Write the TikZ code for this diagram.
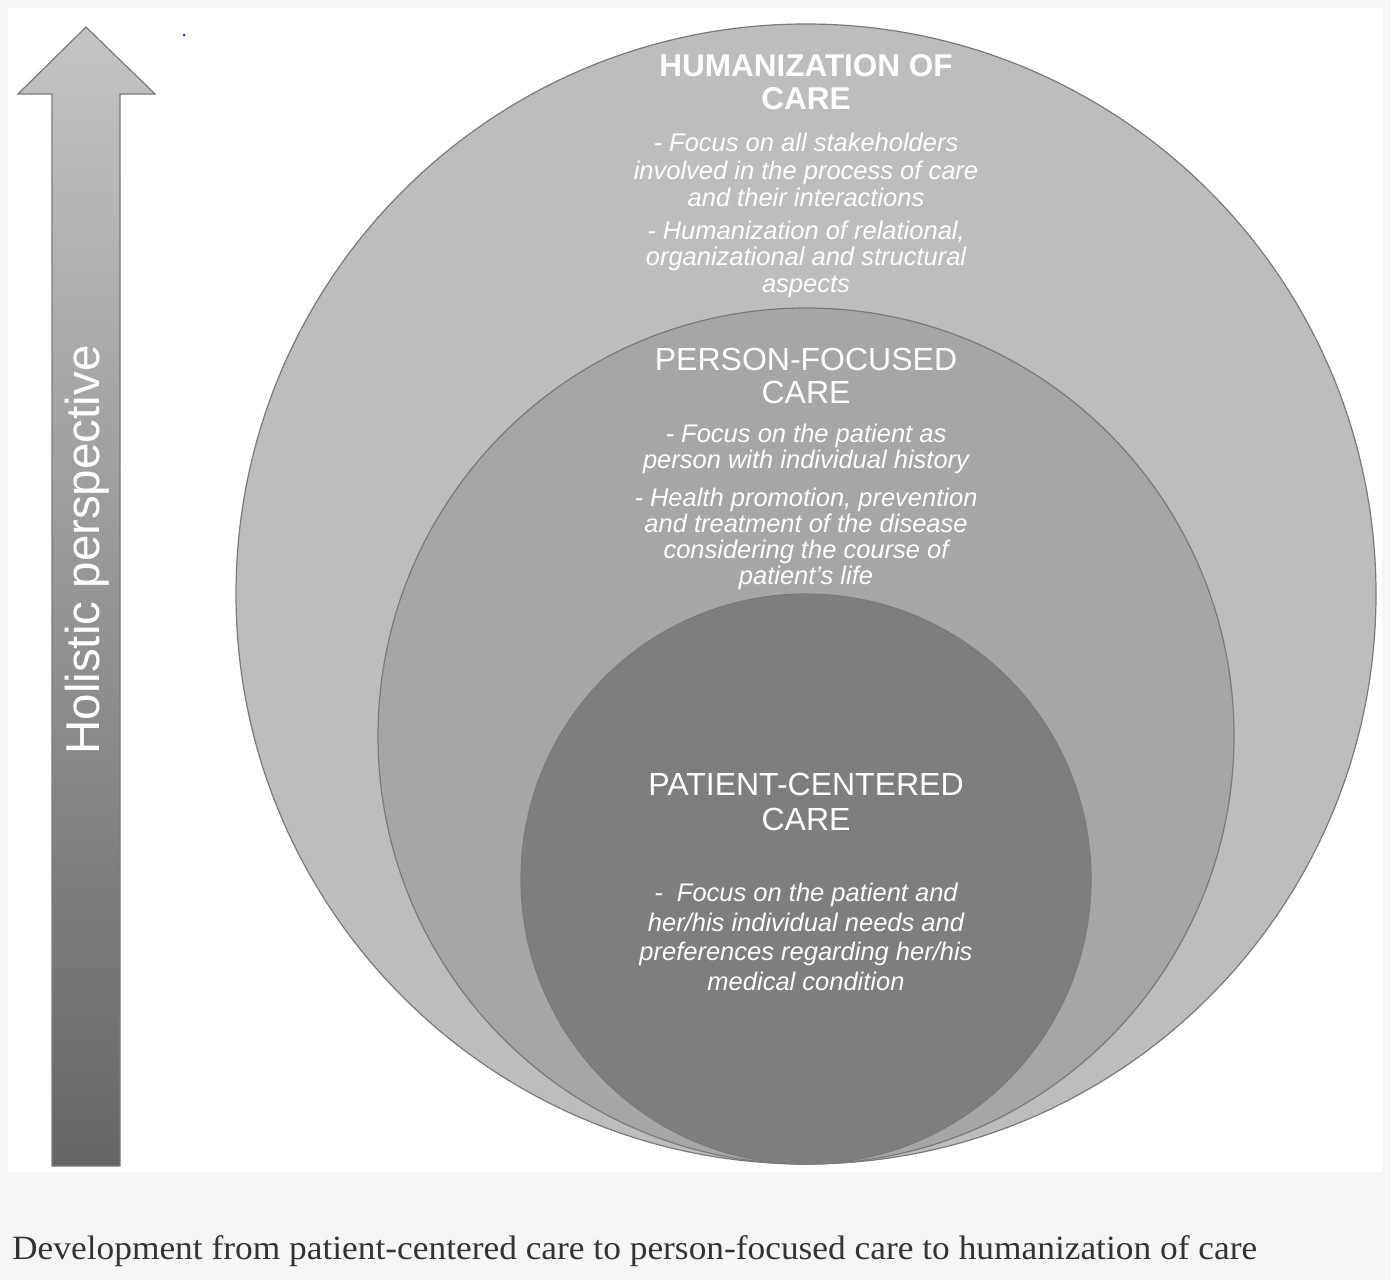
\documentclass[tikz,border=0pt]{standalone}
\usepackage{fontspec}
\setmainfont{Liberation Serif}
\setsansfont{Liberation Sans}
\definecolor{pagebg}{HTML}{F6F6F6}
\definecolor{outerfill}{HTML}{BDBDBD}
\definecolor{midfill}{HTML}{A6A6A6}
\definecolor{innerfill}{HTML}{7E7E7E}
\definecolor{ringline}{HTML}{7A7A7A}
\definecolor{captext}{HTML}{333333}
\definecolor{arrowtop}{HTML}{C4C4C4}
\definecolor{arrowbot}{HTML}{666666}
\tikzset{
  ring/.style={draw=ringline, line width=1.2pt},
  ctitle/.style={text=white, align=center, font=\sffamily\fontsize{32}{33}\selectfont},
  cbody/.style={text=white, align=center, font=\sffamily\itshape\fontsize{25.5}{27}\selectfont},
}
\begin{document}
\begin{tikzpicture}[x=1pt,y=-1pt]
\useasboundingbox (0,0) rectangle (1391,1280);
\fill[pagebg] (0,0) rectangle (1391,1280);
\fill[white] (8,8) rectangle (1382,1172);
% circles
\fill[outerfill] (806,594) circle[radius=570pt];
\draw[ring] (806,594) circle[radius=570pt];
\fill[midfill] (806,736) circle[radius=428pt];
\draw[ring] (806,736) circle[radius=428pt];
\fill[innerfill] (806,879) circle[radius=285pt];
\draw[ring] (806,879) circle[radius=285pt];
% arrow
\shade[top color=arrowtop, bottom color=arrowbot]
  (86,27) -- (155,94) -- (120,94) -- (120,1166) -- (52,1166) -- (52,94) -- (18,94) -- cycle;
\draw[ringline, line width=1.2pt, line join=miter]
  (86,27) -- (155,94) -- (120,94) -- (120,1166) -- (52,1166) -- (52,94) -- (18,94) -- cycle;
\node[text=white, rotate=90, font=\sffamily\fontsize{47.5}{48}\selectfont] (holistic) at (87,550) {Holistic perspective};
% dot
\fill[blue!80] (184,35) circle[radius=1.5pt];
% humanization
\node[ctitle, font=\sffamily\bfseries\fontsize{31.5}{33}\selectfont] (humtitle) at (806,82) {HUMANIZATION OF\\CARE};
\node[cbody, font=\sffamily\itshape\fontsize{25.5}{27.5}\selectfont] (humb1) at (806,170) {- Focus on all stakeholders\\involved in the process of care\\and their interactions};
\node[cbody, font=\sffamily\itshape\fontsize{25.5}{26.5}\selectfont] (humb2) at (806,259) {- Humanization of relational,\\organizational and structural\\aspects};
% person
\node[ctitle] (pertitle) at (806,376) {PERSON-FOCUSED\\CARE};
\node[cbody, font=\sffamily\itshape\fontsize{25.5}{26}\selectfont] (perb1) at (806,449) {- Focus on the patient as\\person with individual history};
\node[cbody, font=\sffamily\itshape\fontsize{25.5}{26}\selectfont] (perb2) at (806,539) {- Health promotion, prevention\\and treatment of the disease\\considering the course of\\patient's life};
% patient
\node[ctitle, font=\sffamily\fontsize{32}{35}\selectfont] (pattitle) at (806,802) {PATIENT-CENTERED\\CARE};
\node[cbody, font=\sffamily\itshape\fontsize{25.5}{29.7}\selectfont] (patb) at (806,937) {-\ \ Focus on the patient and\\her/his individual needs and\\preferences regarding her/his\\medical condition};
% caption
\node[anchor=base west, inner sep=0pt, text=captext, xscale=1.04, font=\fontsize{34}{36}\selectfont] (caption) at (12,1259) {Development from patient-centered care to person-focused care to humanization of care};
\end{tikzpicture}
\end{document}
